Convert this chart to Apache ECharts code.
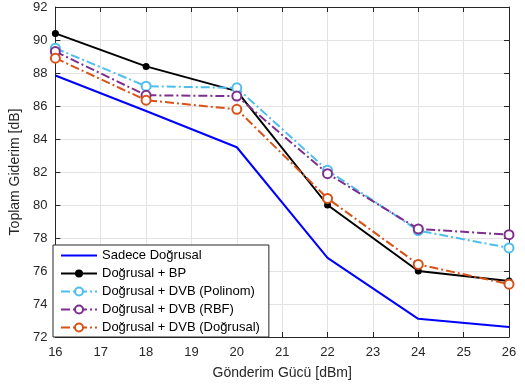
<!DOCTYPE html>
<html><head><meta charset="utf-8">
<script src="https://cdn.jsdelivr.net/npm/echarts@6/dist/echarts.min.js"></script>
<style>html,body{margin:0;padding:0;background:#fff}#c{width:525px;height:387px}</style>
</head><body><div id="c"></div>
<script>
const xValues = [16, 18, 20, 22, 24, 26];
const sadece = [87.85, 85.7, 83.5, 76.8, 73.1, 72.6];
const bp = [90.4, 88.4, 86.9, 80.0, 76.0, 75.4];
const polinom = [89.5, 87.2, 87.1, 82.1, 78.45, 77.4];
const rbf = [89.3, 86.65, 86.6, 81.9, 78.55, 78.2];
const dogrusal = [88.9, 86.35, 85.8, 80.4, 76.4, 75.2];
const seriesNames = ['Sadece Doğrusal', 'Doğrusal + BP', 'Doğrusal + DVB (Polinom)', 'Doğrusal + DVB (RBF)', 'Doğrusal + DVB (Doğrusal)'];
const xTitle = 'Gönderim Gücü [dBm]';
const yTitle = 'Toplam Giderim [dB]';

const pair = arr => xValues.map((x, i) => [x, arr[i]]);
const dashDot = [9, 3, 2, 3];
const font = 'Liberation Sans, Arial, sans-serif';
const axisCol = '#262626';

const chart = echarts.init(document.getElementById('c'), null, {renderer: 'canvas'});
const baseX = {
  type: 'value', min: 16, max: 26, interval: 1,
  axisLine: {show: true, onZero: false, lineStyle: {color: axisCol, width: 1}},
  axisTick: {show: true, inside: true, length: 5, lineStyle: {color: axisCol}},
};
const baseY = {
  type: 'value', min: 72, max: 92, interval: 2,
  axisLine: {show: true, onZero: false, lineStyle: {color: axisCol, width: 1}},
  axisTick: {show: true, inside: true, length: 5, lineStyle: {color: axisCol}},
};
chart.setOption({
  animation: false,
  backgroundColor: '#fff',
  grid: {left: 53, right: 16, top: 7, bottom: 50, containLabel: false},
  xAxis: [
    Object.assign({}, baseX, {
      position: 'bottom',
      name: xTitle, nameLocation: 'middle', nameGap: 29,
      nameTextStyle: {fontFamily: font, fontSize: 14, color: axisCol},
      axisLabel: {fontFamily: font, fontSize: 13, color: axisCol, margin: 9},
      splitLine: {show: true, lineStyle: {color: '#e3e3e3', width: 1}}
    }),
    Object.assign({}, baseX, {
      position: 'top', axisLabel: {show: false}, splitLine: {show: false}
    })
  ],
  yAxis: [
    Object.assign({}, baseY, {
      position: 'left',
      name: yTitle, nameLocation: 'middle', nameGap: 32,
      nameTextStyle: {fontFamily: font, fontSize: 14, color: axisCol},
      axisLabel: {fontFamily: font, fontSize: 13, color: axisCol, margin: 8},
      splitLine: {show: true, lineStyle: {color: '#e3e3e3', width: 1}}
    }),
    Object.assign({}, baseY, {
      position: 'right', axisLabel: {show: false}, splitLine: {show: false}
    })
  ],
  legend: {
    orient: 'vertical', left: 53, bottom: 50,
    backgroundColor: '#fff', borderColor: '#262626', borderWidth: 1, borderRadius: 0,
    padding: [4, 9, 3, 7], itemWidth: 36, itemHeight: 10, itemGap: 5,
    textStyle: {fontFamily: font, fontSize: 13, color: '#000', lineHeight: 13},
    data: [
      {name: seriesNames[0], itemStyle: {opacity: 0}},
      seriesNames[1], seriesNames[2], seriesNames[3], seriesNames[4]
    ]
  },
  series: [
    {name: seriesNames[0], type: 'line', data: pair(sadece), symbol: 'none',
     lineStyle: {color: '#0000ff', width: 2}, itemStyle: {color: '#0000ff'}, z: 2},
    {name: seriesNames[1], type: 'line', data: pair(bp), symbol: 'circle', symbolSize: 7,
     lineStyle: {color: '#000', width: 2}, itemStyle: {color: '#000'}, z: 3},
    {name: seriesNames[2], type: 'line', data: pair(polinom), symbol: 'emptyCircle', symbolSize: 9,
     lineStyle: {color: '#4DBEEE', width: 2, type: dashDot}, itemStyle: {color: '#4DBEEE', borderWidth: 2}, z: 4},
    {name: seriesNames[3], type: 'line', data: pair(rbf), symbol: 'emptyCircle', symbolSize: 9,
     lineStyle: {color: '#7E2F8E', width: 2, type: dashDot}, itemStyle: {color: '#7E2F8E', borderWidth: 2}, z: 5},
    {name: seriesNames[4], type: 'line', data: pair(dogrusal), symbol: 'emptyCircle', symbolSize: 9,
     lineStyle: {color: '#D95319', width: 2, type: dashDot}, itemStyle: {color: '#D95319', borderWidth: 2}, z: 6}
  ]
});
</script></body></html>
